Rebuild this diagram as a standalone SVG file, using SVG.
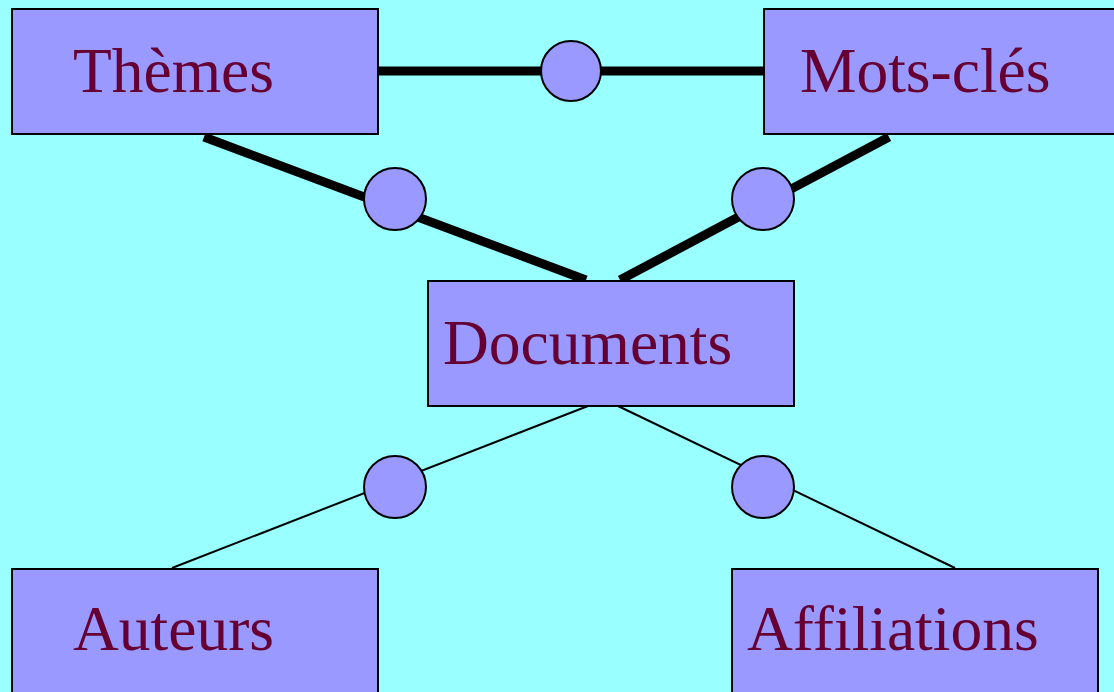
<svg xmlns="http://www.w3.org/2000/svg" width="1114" height="692" viewBox="0 0 1114 692">
  <style>
    .box { fill: #9999ff; stroke: #000; stroke-width: 2; }
    .rel { fill: #9999ff; stroke: #000; stroke-width: 2; }
    .label { font-family: "Liberation Serif", "Times New Roman", serif; font-size: 63.5px; fill: #660033; }
    .thick { stroke: #000; stroke-width: 9; fill: none; }
    .thin { stroke: #000; stroke-width: 2; fill: none; }
  </style>
  <rect x="0" y="0" width="1114" height="692" fill="#99ffff"/>

  <g id="connectors">
    <line class="thick" x1="378" y1="71" x2="764" y2="71"/>
    <line class="thick" x1="204" y1="137" x2="586" y2="280"/>
    <line class="thick" x1="889" y1="137" x2="620" y2="280"/>
    <line class="thin" x1="588" y1="406" x2="172" y2="568"/>
    <line class="thin" x1="618" y1="406" x2="955" y2="568"/>
  </g>

  <g id="relations">
    <circle id="rel-themes-mots" class="rel" cx="571" cy="71" r="30"/>
    <circle id="rel-themes-docs" class="rel" cx="395" cy="199" r="31"/>
    <circle id="rel-mots-docs" class="rel" cx="763" cy="199" r="31"/>
    <circle id="rel-docs-auteurs" class="rel" cx="395" cy="487" r="31"/>
    <circle id="rel-docs-affil" class="rel" cx="763" cy="487" r="31"/>
  </g>

  <g id="themes">
    <rect class="box" x="12" y="9" width="366" height="125"/>
    <text class="label" x="73" y="92">Thèmes</text>
  </g>
  <g id="mots-cles">
    <rect class="box" x="764" y="9" width="366" height="125"/>
    <text class="label" x="800" y="92">Mots-clés</text>
  </g>
  <g id="documents">
    <rect class="box" x="428" y="281" width="366" height="125"/>
    <text class="label" x="443" y="364">Documents</text>
  </g>
  <g id="auteurs">
    <rect class="box" x="12" y="569" width="366" height="130"/>
    <text class="label" x="73" y="650">Auteurs</text>
  </g>
  <g id="affiliations">
    <rect class="box" x="732" y="569" width="366" height="130"/>
    <text class="label" x="747" y="650">Affiliations</text>
  </g>
</svg>
